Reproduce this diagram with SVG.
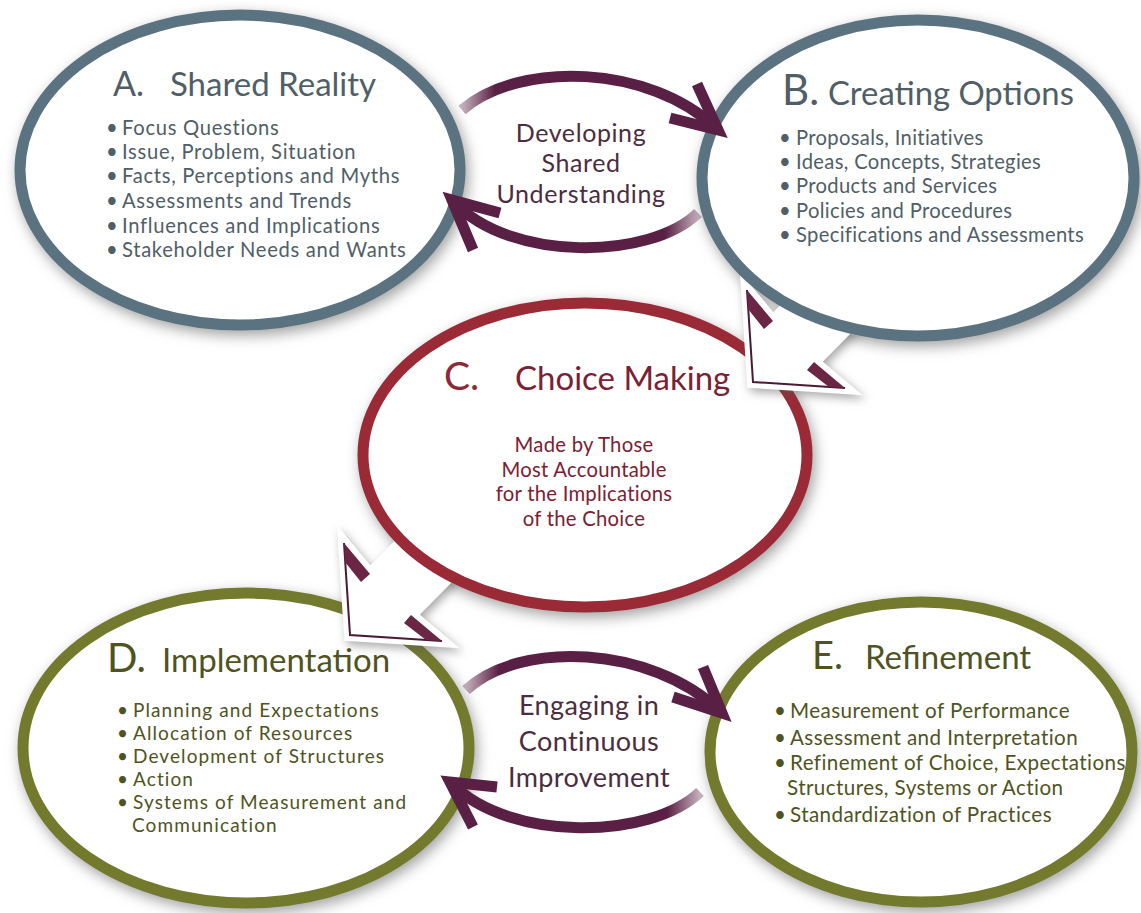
<svg xmlns="http://www.w3.org/2000/svg" xmlns:xlink="http://www.w3.org/1999/xlink" width="1141" height="913" viewBox="0 0 1141 913">
<style>
.t{font-family:Lato,"Open Sans","Liberation Sans",sans-serif}
.ell{fill:#ffffff;stroke-width:11}
.ab{stroke:#5b7381}
.c{stroke:#9a2a36}
.de{stroke:#737a2e}
.ta{fill:#4f5e67}
.tc{fill:#7b2133}
.td{fill:#4f5322}
.tm{fill:#4b2d3f}
.arc{fill:none;stroke-width:11;stroke-linejoin:miter;stroke-linecap:butt}
.head{fill:none;stroke:#5a1f44;stroke-width:11;stroke-linejoin:miter;stroke-miterlimit:10}
.band{fill:#6b2545}
.thin{fill:none;stroke:#4a1a35;stroke-width:2}
</style>
<defs>
<filter id="sh" x="-15%" y="-15%" width="130%" height="135%" color-interpolation-filters="sRGB">
<feGaussianBlur in="SourceAlpha" stdDeviation="7"/>
<feOffset dx="3" dy="5" result="b"/>
<feFlood flood-color="#555" flood-opacity="0.55"/>
<feComposite in2="b" operator="in"/>
<feMerge><feMergeNode/><feMergeNode in="SourceGraphic"/></feMerge>
</filter>
<filter id="sh2" x="-30%" y="-30%" width="160%" height="160%" color-interpolation-filters="sRGB">
<feGaussianBlur in="SourceAlpha" stdDeviation="5"/>
<feOffset dx="3" dy="4" result="b"/>
<feFlood flood-color="#555" flood-opacity="0.5"/>
<feComposite in2="b" operator="in"/>
<feMerge><feMergeNode/><feMergeNode in="SourceGraphic"/></feMerge>
</filter>
<mask id="mB" maskUnits="userSpaceOnUse" x="0" y="0" width="1141" height="913">
<rect width="1141" height="913" fill="#fff"/>
<ellipse cx="918" cy="178" rx="222" ry="164" fill="#000"/>
</mask>
<mask id="mC" maskUnits="userSpaceOnUse" x="0" y="0" width="1141" height="913">
<rect width="1141" height="913" fill="#fff"/>
<ellipse cx="585" cy="455" rx="228" ry="158" fill="#000"/>
</mask>
<linearGradient id="g1" gradientUnits="userSpaceOnUse" x1="462" y1="0" x2="495" y2="0">
<stop offset="0" stop-color="#5a1f44" stop-opacity="0.35"/><stop offset="1" stop-color="#5a1f44"/>
</linearGradient>
<linearGradient id="g2" gradientUnits="userSpaceOnUse" x1="698" y1="0" x2="665" y2="0">
<stop offset="0" stop-color="#5a1f44" stop-opacity="0.35"/><stop offset="1" stop-color="#5a1f44"/>
</linearGradient>
<linearGradient id="g3" gradientUnits="userSpaceOnUse" x1="466" y1="0" x2="499" y2="0">
<stop offset="0" stop-color="#5a1f44" stop-opacity="0.35"/><stop offset="1" stop-color="#5a1f44"/>
</linearGradient>
<linearGradient id="g4" gradientUnits="userSpaceOnUse" x1="700" y1="0" x2="667" y2="0">
<stop offset="0" stop-color="#5a1f44" stop-opacity="0.35"/><stop offset="1" stop-color="#5a1f44"/>
</linearGradient>
<g id="blk">
<polygon points="0,0 -6,-92 20,-61 110,-151 150,-110 61,-20 92,6" fill="#fff" stroke="#fff" stroke-width="12" stroke-linejoin="miter" filter="url(#sh2)"/>
<path class="thin" d="M-6,-92 L0,0 L92,6"/>
<polygon class="band" points="-6,-92 20,-61 11,-53 -5,-73"/>
<polygon class="band" points="61,-20 92,6 76,5 54,-12"/>
</g>
</defs>
<rect width="1141" height="913" fill="#fff"/>

<g id="node-a">
<ellipse class="ell ab" cx="240" cy="170" rx="220" ry="155" filter="url(#sh)"/>
<text class="t ta" x="113" y="96" font-size="34">A.</text>
<text class="t ta" x="170" y="96" font-size="33">Shared Reality</text>
<g class="t ta" font-size="20.2" letter-spacing="0.7">
<text y="135"><tspan x="106">•</tspan><tspan x="122">Focus Questions</tspan></text>
<text y="159"><tspan x="106">•</tspan><tspan x="122">Issue, Problem, Situation</tspan></text>
<text y="183"><tspan x="106">•</tspan><tspan x="122">Facts, Perceptions and Myths</tspan></text>
<text y="208"><tspan x="106">•</tspan><tspan x="122">Assessments and Trends</tspan></text>
<text y="233"><tspan x="106">•</tspan><tspan x="122">Influences and Implications</tspan></text>
<text y="257"><tspan x="106">•</tspan><tspan x="122">Stakeholder Needs and Wants</tspan></text>
</g>
</g>

<g id="node-b">
<ellipse class="ell ab" cx="918" cy="178" rx="216" ry="158" filter="url(#sh)"/>
<text class="t ta" x="782" y="105" font-size="42">B.</text>
<text class="t ta" x="828" y="105" font-size="32.8">Creating Options</text>
<g class="t ta" font-size="20.2" letter-spacing="0.33">
<text y="145"><tspan x="779">•</tspan><tspan x="796">Proposals, Initiatives</tspan></text>
<text y="169"><tspan x="779">•</tspan><tspan x="796">Ideas, Concepts, Strategies</tspan></text>
<text y="193"><tspan x="779">•</tspan><tspan x="796">Products and Services</tspan></text>
<text y="218"><tspan x="779">•</tspan><tspan x="796">Policies and Procedures</tspan></text>
<text y="242"><tspan x="779">•</tspan><tspan x="796">Specifications and Assessments</tspan></text>
</g>
</g>

<g id="node-c">
<ellipse class="ell c" cx="585" cy="455" rx="222" ry="152" filter="url(#sh)"/>
<text class="t" x="444" y="390" font-size="39" fill="#8e2a36">C.</text>
<text class="t tc" x="515" y="390" font-size="33">Choice Making</text>
<g class="t tc" font-size="20.3" letter-spacing="0.25" text-anchor="middle">
<text x="584" y="452">Made by Those</text>
<text x="584" y="477">Most Accountable</text>
<text x="584" y="501">for the Implications</text>
<text x="584" y="526">of the Choice</text>
</g>
</g>

<g id="node-d">
<ellipse class="ell de" cx="246" cy="748" rx="223" ry="155" filter="url(#sh)"/>
<text class="t td" x="107" y="672" font-size="40">D.</text>
<text class="t td" x="162" y="672" font-size="33">Implementation</text>
<g class="t td" font-size="19" letter-spacing="1.1">
<text y="717"><tspan x="117">•</tspan><tspan x="133">Planning and Expectations</tspan></text>
<text y="740"><tspan x="117">•</tspan><tspan x="133">Allocation of Resources</tspan></text>
<text y="763"><tspan x="117">•</tspan><tspan x="133">Development of Structures</tspan></text>
<text y="786"><tspan x="117">•</tspan><tspan x="133">Action</tspan></text>
<text y="809"><tspan x="117">•</tspan><tspan x="133">Systems of Measurement and</tspan></text>
<text y="832"><tspan x="132">Communication</tspan></text>
</g>
</g>

<g id="node-e">
<ellipse class="ell de" cx="921" cy="752" rx="211" ry="150" filter="url(#sh)"/>
<text class="t td" x="812" y="669" font-size="38">E.</text>
<text class="t td" x="865" y="669" font-size="33">Refinement</text>
<g class="t td" font-size="20.6" letter-spacing="0.42">
<text y="718"><tspan x="774">•</tspan><tspan x="790">Measurement of Performance</tspan></text>
<text y="745"><tspan x="774">•</tspan><tspan x="790">Assessment and Interpretation</tspan></text>
<text y="770"><tspan x="774">•</tspan><tspan x="790">Refinement of Choice, Expectations</tspan></text>
<text y="795"><tspan x="787">Structures, Systems or Action</tspan></text>
<text y="822"><tspan x="774">•</tspan><tspan x="790">Standardization of Practices</tspan></text>
</g>
</g>

<g id="label-ab" class="t tm" font-size="25" letter-spacing="0.6" text-anchor="middle">
<text x="581" y="142">Developing</text>
<text x="581" y="172">Shared</text>
<text x="581" y="203">Understanding</text>
</g>
<g id="label-de" class="t tm" font-size="27" letter-spacing="0.4" text-anchor="middle">
<text x="589" y="715">Engaging in</text>
<text x="589" y="751">Continuous</text>
<text x="589" y="787">Improvement</text>
</g>

<g id="connectors">
<path class="arc" stroke="url(#g1)" d="M462,110 C520,60 650,65 716,128"/>
<path class="head" d="M697,84 L718,130 L670,118"/>
<path class="arc" stroke="url(#g2)" d="M698,213 C650,260 510,262 454,202"/>
<path class="head" d="M500,213 L452,200 L473,250"/>
<path class="arc" stroke="url(#g3)" d="M466,690 C520,640 650,645 720,711"/>
<path class="head" d="M703,667 L722,713 L673,697"/>
<path class="arc" stroke="url(#g4)" d="M700,792 C650,840 510,842 452,784"/>
<path class="head" d="M497,787 L450,782 L473,827"/>
<g mask="url(#mB)"><use xlink:href="#blk" transform="translate(753,382)"/></g>
<g mask="url(#mC)"><use xlink:href="#blk" transform="translate(350,635)"/></g>
</g>
</svg>
